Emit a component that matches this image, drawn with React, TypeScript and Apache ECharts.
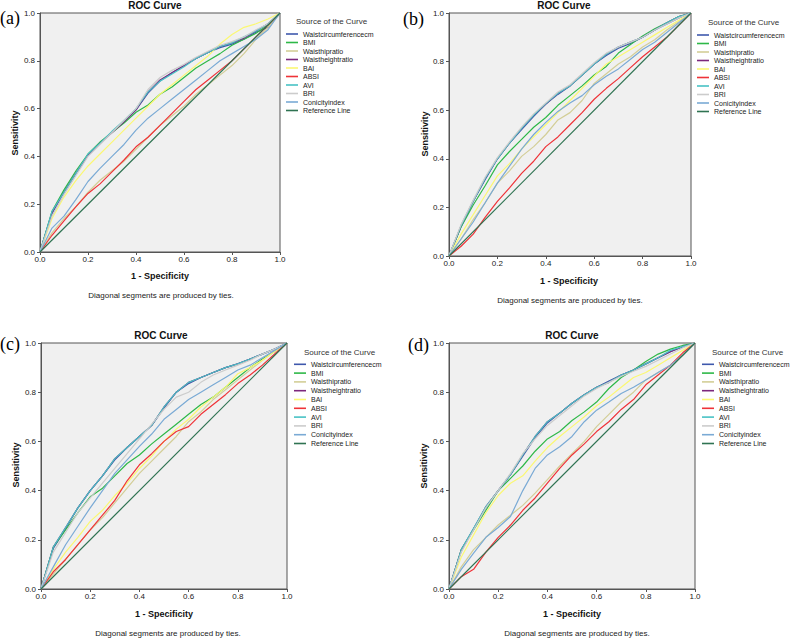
import React, { useEffect, useRef } from "react";
import * as echarts from "echarts";

// x positions (1 - Specificity) at which the curves were read
const X_VALUES = [0, 0.05, 0.1, 0.15, 0.2, 0.25, 0.3, 0.35, 0.4, 0.45, 0.5, 0.55, 0.6, 0.65, 0.7, 0.75, 0.8, 0.85, 0.9, 0.95, 1];

const SERIES_NAMES = ["Waistcircumferencecm", "BMI", "Waisthipratio", "Waistheightratio", "BAI", "ABSI", "AVI", "BRI", "Conicityindex"];
const REFERENCE_NAME = "Reference Line";
const REFERENCE_X = [0, 1];
const REFERENCE_Y = [0, 1];
const SERIES_COLORS = ["#3e58ac", "#2eb848", "#d3ce97", "#7c287d", "#fbf873", "#ef3338", "#48c2c5", "#cccccc", "#7aaad5"];
const REFERENCE_COLOR = "#2f7352";
const PANEL_LETTERS = ["(a)", "(b)", "(c)", "(d)"];
const TICK_VALUES = [0, 0.2, 0.4, 0.6, 0.8, 1.0];

// Panel (a)
const aWC = [0, 0.16, 0.25, 0.33, 0.405, 0.455, 0.5, 0.545, 0.595, 0.665, 0.715, 0.75, 0.78, 0.81, 0.835, 0.855, 0.87, 0.89, 0.92, 0.94, 1];
const aBMI = [0, 0.17, 0.26, 0.34, 0.41, 0.46, 0.5, 0.54, 0.585, 0.615, 0.66, 0.69, 0.73, 0.77, 0.8, 0.83, 0.865, 0.89, 0.915, 0.95, 1];
const aWHR = [0, 0.08, 0.14, 0.19, 0.25, 0.3, 0.34, 0.38, 0.43, 0.48, 0.53, 0.57, 0.61, 0.66, 0.7, 0.74, 0.78, 0.83, 0.89, 0.94, 1];
const aWHtR = [0, 0.165, 0.25, 0.33, 0.405, 0.455, 0.5, 0.545, 0.595, 0.67, 0.72, 0.75, 0.78, 0.81, 0.835, 0.86, 0.875, 0.895, 0.925, 0.955, 1];
const aBAI = [0, 0.14, 0.23, 0.3, 0.36, 0.41, 0.46, 0.51, 0.56, 0.61, 0.66, 0.7, 0.74, 0.78, 0.82, 0.87, 0.91, 0.94, 0.955, 0.975, 1];
const aABSI = [0, 0.07, 0.13, 0.19, 0.245, 0.285, 0.335, 0.385, 0.44, 0.48, 0.53, 0.58, 0.63, 0.68, 0.72, 0.76, 0.8, 0.85, 0.9, 0.95, 1];
const aAVI = [0, 0.17, 0.25, 0.33, 0.41, 0.455, 0.505, 0.55, 0.6, 0.67, 0.715, 0.745, 0.775, 0.81, 0.835, 0.86, 0.875, 0.9, 0.925, 0.955, 1];
const aBRI = [0, 0.15, 0.24, 0.32, 0.4, 0.45, 0.5, 0.55, 0.6, 0.68, 0.73, 0.76, 0.785, 0.815, 0.84, 0.865, 0.88, 0.9, 0.93, 0.955, 1];
const aCI = [0, 0.1, 0.15, 0.22, 0.295, 0.35, 0.4, 0.45, 0.51, 0.56, 0.6, 0.64, 0.68, 0.72, 0.76, 0.8, 0.83, 0.86, 0.89, 0.93, 1];

// Panel (b)
const bWC = [0, 0.12, 0.225, 0.315, 0.4, 0.465, 0.52, 0.575, 0.625, 0.665, 0.7, 0.745, 0.79, 0.825, 0.855, 0.875, 0.9, 0.93, 0.955, 0.98, 1];
const bBMI = [0, 0.12, 0.21, 0.29, 0.375, 0.43, 0.48, 0.53, 0.57, 0.62, 0.66, 0.7, 0.745, 0.78, 0.835, 0.87, 0.905, 0.935, 0.96, 0.985, 1];
const bWHR = [0, 0.07, 0.15, 0.22, 0.3, 0.35, 0.41, 0.45, 0.5, 0.56, 0.59, 0.64, 0.71, 0.75, 0.79, 0.82, 0.86, 0.89, 0.93, 0.965, 1];
const bWHtR = [0, 0.125, 0.225, 0.32, 0.4, 0.465, 0.525, 0.58, 0.625, 0.67, 0.7, 0.745, 0.79, 0.83, 0.86, 0.88, 0.9, 0.93, 0.96, 0.985, 1];
const bBAI = [0, 0.09, 0.17, 0.25, 0.33, 0.38, 0.44, 0.49, 0.54, 0.59, 0.64, 0.69, 0.74, 0.79, 0.82, 0.85, 0.88, 0.91, 0.94, 0.97, 1];
const bABSI = [0, 0.04, 0.09, 0.16, 0.225, 0.28, 0.34, 0.39, 0.45, 0.49, 0.54, 0.59, 0.645, 0.69, 0.73, 0.775, 0.82, 0.86, 0.9, 0.95, 1];
const bAVI = [0, 0.125, 0.225, 0.32, 0.4, 0.465, 0.525, 0.58, 0.627, 0.67, 0.7, 0.745, 0.79, 0.83, 0.86, 0.88, 0.9, 0.93, 0.96, 0.985, 1];
const bBRI = [0, 0.13, 0.23, 0.325, 0.405, 0.47, 0.53, 0.585, 0.63, 0.675, 0.705, 0.75, 0.795, 0.835, 0.86, 0.88, 0.9, 0.93, 0.955, 0.98, 1];
const bCI = [0, 0.07, 0.14, 0.22, 0.3, 0.37, 0.44, 0.5, 0.55, 0.595, 0.63, 0.66, 0.705, 0.74, 0.77, 0.81, 0.85, 0.88, 0.92, 0.96, 1];

// Panel (c)
const cWC = [0, 0.165, 0.245, 0.33, 0.4, 0.46, 0.525, 0.575, 0.62, 0.665, 0.735, 0.8, 0.835, 0.86, 0.88, 0.9, 0.915, 0.935, 0.955, 0.975, 1];
const cBMI = [0, 0.17, 0.24, 0.31, 0.375, 0.41, 0.46, 0.51, 0.545, 0.59, 0.63, 0.67, 0.71, 0.75, 0.78, 0.82, 0.86, 0.9, 0.935, 0.965, 1];
const cWHR = [0, 0.06, 0.12, 0.18, 0.24, 0.29, 0.35, 0.41, 0.47, 0.52, 0.57, 0.62, 0.68, 0.72, 0.77, 0.81, 0.85, 0.89, 0.93, 0.965, 1];
const cWHtR = [0, 0.17, 0.25, 0.33, 0.4, 0.46, 0.53, 0.575, 0.62, 0.665, 0.74, 0.8, 0.84, 0.86, 0.88, 0.9, 0.915, 0.935, 0.955, 0.975, 1];
const cBAI = [0, 0.08, 0.15, 0.21, 0.275, 0.32, 0.38, 0.43, 0.49, 0.54, 0.6, 0.65, 0.69, 0.74, 0.78, 0.82, 0.875, 0.9, 0.93, 0.965, 1];
const cABSI = [0, 0.07, 0.12, 0.18, 0.24, 0.3, 0.36, 0.44, 0.505, 0.55, 0.6, 0.64, 0.66, 0.71, 0.75, 0.79, 0.835, 0.87, 0.91, 0.955, 1];
const cAVI = [0, 0.17, 0.25, 0.33, 0.4, 0.46, 0.53, 0.575, 0.62, 0.665, 0.74, 0.8, 0.84, 0.86, 0.88, 0.9, 0.915, 0.935, 0.955, 0.975, 1];
const cBRI = [0, 0.15, 0.23, 0.31, 0.37, 0.43, 0.49, 0.55, 0.61, 0.67, 0.73, 0.78, 0.8, 0.84, 0.87, 0.89, 0.91, 0.93, 0.955, 0.975, 1];
const cCI = [0, 0.09, 0.18, 0.255, 0.33, 0.4, 0.47, 0.525, 0.58, 0.63, 0.69, 0.73, 0.77, 0.8, 0.83, 0.86, 0.89, 0.91, 0.94, 0.97, 1];

// Panel (d)
const dWC = [0, 0.155, 0.245, 0.33, 0.4, 0.465, 0.54, 0.615, 0.675, 0.715, 0.755, 0.79, 0.82, 0.845, 0.87, 0.89, 0.915, 0.94, 0.965, 0.985, 1];
const dBMI = [0, 0.16, 0.24, 0.32, 0.4, 0.45, 0.5, 0.56, 0.61, 0.64, 0.685, 0.72, 0.76, 0.815, 0.86, 0.89, 0.925, 0.955, 0.975, 0.99, 1];
const dWHR = [0, 0.09, 0.16, 0.21, 0.26, 0.3, 0.34, 0.39, 0.445, 0.5, 0.55, 0.6, 0.66, 0.71, 0.76, 0.8, 0.85, 0.88, 0.91, 0.95, 1];
const dWHtR = [0, 0.16, 0.245, 0.335, 0.4, 0.465, 0.545, 0.62, 0.68, 0.715, 0.755, 0.79, 0.82, 0.84, 0.87, 0.89, 0.915, 0.94, 0.965, 0.985, 1];
const dBAI = [0, 0.13, 0.22, 0.31, 0.38, 0.43, 0.46, 0.52, 0.575, 0.62, 0.66, 0.7, 0.745, 0.78, 0.82, 0.86, 0.88, 0.91, 0.94, 0.97, 1];
const dABSI = [0, 0.05, 0.08, 0.15, 0.21, 0.26, 0.32, 0.37, 0.43, 0.49, 0.545, 0.59, 0.64, 0.68, 0.73, 0.77, 0.83, 0.87, 0.91, 0.96, 1];
const dAVI = [0, 0.16, 0.247, 0.335, 0.4, 0.465, 0.545, 0.62, 0.68, 0.715, 0.755, 0.79, 0.82, 0.84, 0.87, 0.89, 0.915, 0.94, 0.97, 0.985, 1];
const dBRI = [0, 0.15, 0.24, 0.33, 0.4, 0.47, 0.55, 0.61, 0.665, 0.705, 0.745, 0.785, 0.815, 0.84, 0.865, 0.885, 0.905, 0.93, 0.955, 0.98, 1];
const dCI = [0, 0.08, 0.146, 0.21, 0.25, 0.295, 0.4, 0.49, 0.545, 0.578, 0.62, 0.68, 0.727, 0.76, 0.795, 0.82, 0.85, 0.88, 0.91, 0.95, 1];

const PANEL_DATA = [
  [aWC, aBMI, aWHR, aWHtR, aBAI, aABSI, aAVI, aBRI, aCI],
  [bWC, bBMI, bWHR, bWHtR, bBAI, bABSI, bAVI, bBRI, bCI],
  [cWC, cBMI, cWHR, cWHtR, cBAI, cABSI, cAVI, cBRI, cCI],
  [dWC, dBMI, dWHR, dWHtR, dBAI, dABSI, dAVI, dBRI, dCI],
];

const SANS = "'Liberation Sans', Arial, sans-serif";
const SERIF = "'Liberation Serif', 'Times New Roman', serif";

// Layout of each panel (pixels)
const LAYOUT = [
  { grid: [40, 13, 240, 239], title: [155, 5], xName: [160, 276], yName: [15, 133], note: [161, 295], legTitle: [296, 21], legLeft: 286, legTop: 29.75, legStep: 8.5, letter: [0, 18] },
  { grid: [449, 13, 242, 243], title: [564, 5], xName: [569, 281], yName: [425, 134], note: [570, 300], legTitle: [708, 22], legLeft: 697, legTop: 30.75, legStep: 8.5, letter: [403, 19] },
  { grid: [41, 343, 246, 246], title: [161, 335], xName: [164, 614], yName: [16, 465], note: [168, 633], legTitle: [304, 352], legLeft: 294, legTop: 359.9, legStep: 8.8, letter: [0, 344] },
  { grid: [449, 343, 246, 246], title: [572, 335], xName: [572, 614], yName: [424, 466], note: [577, 633], legTitle: [712, 352], legLeft: 702, legTop: 359.9, legStep: 8.8, letter: [408, 345] },
];

function buildOption() {
  const axisColor = "#555555";
  const grids = LAYOUT.map((p) => ({
    left: p.grid[0], top: p.grid[1], width: p.grid[2], height: p.grid[3],
    show: true, backgroundColor: "#f0f0f0", borderColor: axisColor, borderWidth: 1,
  }));
  const makeAxis = (i: number, isX: boolean) => ({
    type: "value", gridIndex: i, min: TICK_VALUES[0], max: TICK_VALUES[TICK_VALUES.length - 1], interval: 0.2,
    axisLine: { show: true, lineStyle: { color: axisColor, width: 1 } },
    axisTick: { show: true, length: 3, lineStyle: { color: axisColor } },
    splitLine: { show: false },
    axisLabel: {
      fontSize: 8, color: "#222", fontFamily: SANS, margin: isX ? 3 : 5,
      formatter: (v: number) => v.toFixed(1),
    },
  });
  const series: any[] = [];
  PANEL_DATA.forEach((arrs, i) => {
    arrs.forEach((arr, j) => {
      series.push({
        type: "line", name: SERIES_NAMES[j], xAxisIndex: i, yAxisIndex: i,
        data: X_VALUES.map((x, k) => [x, arr[k]]),
        showSymbol: false, symbol: "none", silent: true, z: 2 + j * 0.01,
        lineStyle: { width: 1.2, color: SERIES_COLORS[j] },
        itemStyle: { color: SERIES_COLORS[j] },
      });
    });
    series.push({
      type: "line", name: REFERENCE_NAME, xAxisIndex: i, yAxisIndex: i,
      data: REFERENCE_X.map((x, k) => [x, REFERENCE_Y[k]]),
      showSymbol: false, symbol: "none", silent: true, z: 3,
      lineStyle: { width: 1.2, color: REFERENCE_COLOR },
      itemStyle: { color: REFERENCE_COLOR },
    });
  });
  const legends = LAYOUT.map((p) => ({
    orient: "vertical", left: p.legLeft, top: p.legTop, padding: 0, itemGap: 0,
    itemWidth: 12, itemHeight: 1.6, icon: "rect", selectedMode: false,
    textStyle: { fontSize: 7, lineHeight: p.legStep, color: "#222", fontFamily: SANS },
    data: [...SERIES_NAMES, REFERENCE_NAME],
  }));
  const graphics: any[] = [];
  LAYOUT.forEach((p, i) => {
    graphics.push({ type: "text", x: p.title[0], y: p.title[1], style: { text: "ROC Curve", fontSize: 10, fontWeight: "bold", fontFamily: SANS, fill: "#111", align: "center", verticalAlign: "middle" } });
    graphics.push({ type: "text", x: p.xName[0], y: p.xName[1], style: { text: "1 - Specificity", fontSize: 9, fontWeight: "bold", fontFamily: SANS, fill: "#111", align: "center", verticalAlign: "middle" } });
    graphics.push({ type: "text", x: p.yName[0], y: p.yName[1], rotation: Math.PI / 2, style: { text: "Sensitivity", fontSize: 9, fontWeight: "bold", fontFamily: SANS, fill: "#111", align: "center", verticalAlign: "middle" } });
    graphics.push({ type: "text", x: p.note[0], y: p.note[1], style: { text: "Diagonal segments are produced by ties.", fontSize: 8, fontFamily: SANS, fill: "#222", align: "center", verticalAlign: "middle" } });
    graphics.push({ type: "text", x: p.legTitle[0], y: p.legTitle[1], style: { text: "Source of the Curve", fontSize: 8, fontFamily: SANS, fill: "#333", align: "left", verticalAlign: "middle" } });
    graphics.push({ type: "text", x: p.letter[0], y: p.letter[1], style: { text: PANEL_LETTERS[i], fontSize: 18, fontFamily: SERIF, fill: "#000", align: "left", verticalAlign: "middle" } });
  });
  return {
    animation: false,
    backgroundColor: "#ffffff",
    grid: grids,
    xAxis: LAYOUT.map((_, i) => makeAxis(i, true)),
    yAxis: LAYOUT.map((_, i) => makeAxis(i, false)),
    legend: legends,
    series,
    graphic: graphics,
  };
}

export default function App() {
  const ref = useRef<HTMLDivElement>(null);
  useEffect(() => {
    if (!ref.current) return;
    const chart = echarts.init(ref.current, undefined, { renderer: "svg" });
    chart.setOption(buildOption() as any);
    return () => chart.dispose();
  }, []);
  return <div ref={ref} style={{ position: "fixed", left: 0, top: 0, width: 792, height: 640, background: "#fff" }} />;
}
